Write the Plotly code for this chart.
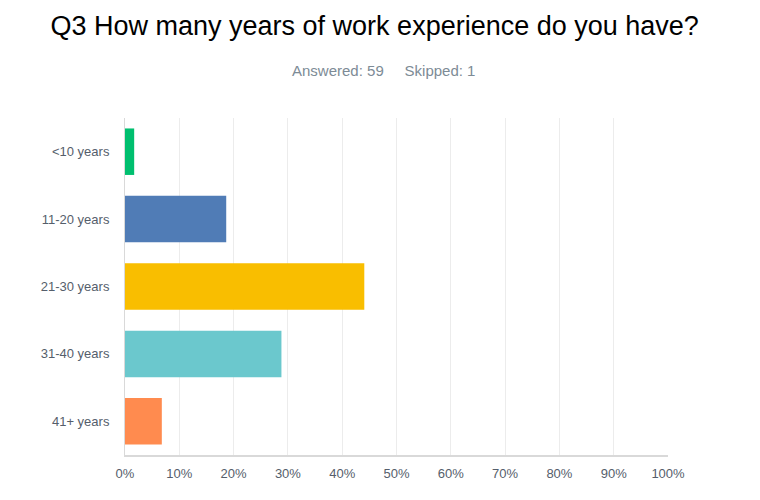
import plotly.graph_objects as go

categories = ["<10 years", "11-20 years", "21-30 years", "31-40 years", "41+ years"]
percent = [1.69, 18.64, 44.07, 28.81, 6.78]
colors = ["#00bf6f", "#507cb6", "#f9be00", "#6bc8cd", "#ff8b4f"]
tick_vals = [0, 10, 20, 30, 40, 50, 60, 70, 80, 90, 100]
tick_text = [f"{v}%" for v in tick_vals]

fig = go.Figure(go.Bar(
    x=percent, y=categories, orientation="h",
    marker=dict(color=colors, line=dict(width=0)),
    width=0.69, hoverinfo="skip",
))

fig.update_layout(
    width=760, height=500,
    margin=dict(l=125, r=92, t=118, b=45),
    paper_bgcolor="white", plot_bgcolor="white",
    showlegend=False,
    font=dict(family="Liberation Sans, Arial, sans-serif", color="#555e6b", size=13),
    title=dict(text="Q3 How many years of work experience do you have?",
               x=0.493, xanchor="center", y=0.948, yanchor="middle",
               font=dict(family="Liberation Sans, Arial, sans-serif", size=27, color="#000000")),
    annotations=[dict(text="Answered: 59&nbsp;&nbsp;&nbsp;&nbsp;&nbsp;Skipped: 1", xref="paper", yref="paper",
                      x=(383 - 125) / 543, xanchor="center", y=1 + (118 - 71) / 337, yanchor="middle",
                      showarrow=False, font=dict(size=15, color="#7d8b96"))],
)
fig.update_xaxes(range=[0, 100], tickvals=tick_vals, ticktext=tick_text,
                 showgrid=True, gridcolor="#ececec", gridwidth=1,
                 showline=True, linecolor="#d9d9d9", linewidth=2,
                 zeroline=False, ticks="outside", ticklen=5, tickcolor="white", fixedrange=True,
                 tickfont=dict(size=13, color="#555e6b"))
fig.update_yaxes(categoryorder="array", categoryarray=categories[::-1],
                 autorange=False, range=[-0.5, 4.5],
                 showline=True, linecolor="#d9d9d9", linewidth=1,
                 ticks="outside", ticklen=12, tickcolor="white",
                 tickfont=dict(size=13, color="#555e6b"), fixedrange=True)

fig.write_html("out.html")
